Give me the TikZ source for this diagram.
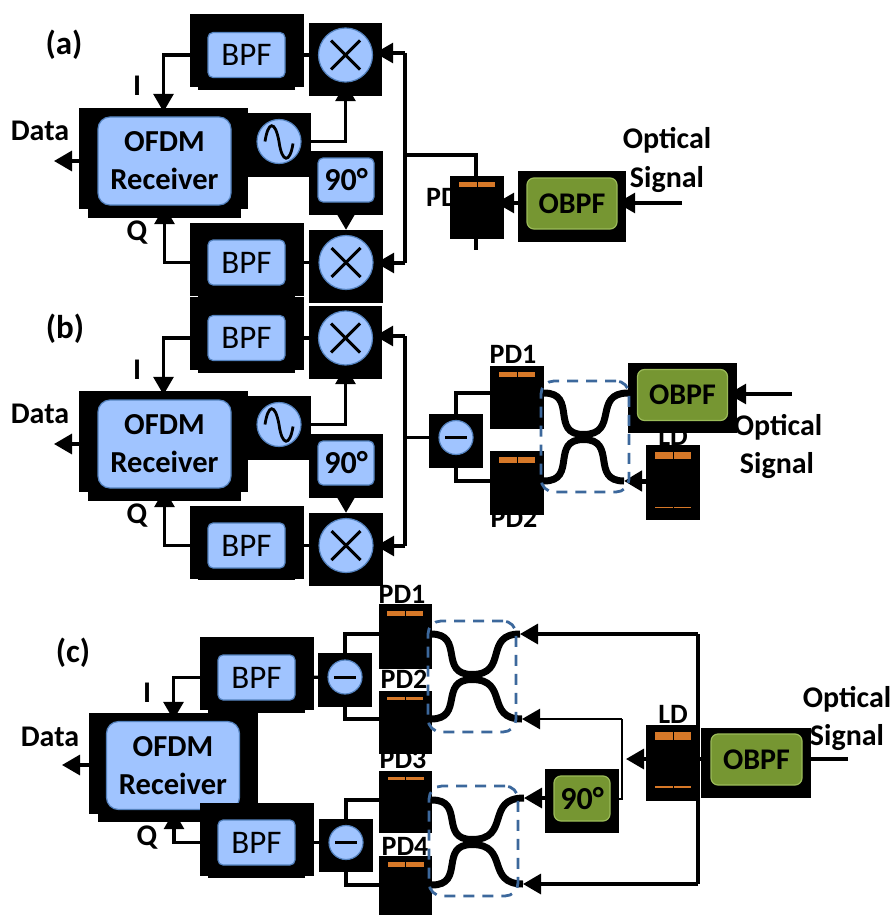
\documentclass[tikz,border=0pt]{standalone}
\usepackage{fontspec}
\setmainfont{Carlito}
\usetikzlibrary{arrows.meta}
\definecolor{rxblue}{RGB}{160,196,255}
\definecolor{rxedge}{RGB}{84,130,190}
\definecolor{filtergreen}{RGB}{118,150,50}
\definecolor{filteredge}{RGB}{155,187,89}
\definecolor{pdorange}{RGB}{214,120,40}
\definecolor{dashblue}{RGB}{60,104,156}
\pgfdeclarelayer{wires}
\pgfsetlayers{wires,main}
\tikzset{plate/.style={fill=black, inner sep=0pt, minimum width=54pt, minimum height=63pt}}
\tikzset{bpfplate/.style={plate, minimum width=114pt, minimum height=73pt}}
\tikzset{mixplate/.style={plate, minimum width=73pt, minimum height=73pt}}
\tikzset{rxplate/.style={plate, minimum width=169pt, minimum height=101pt}}
\tikzset{obpfplate/.style={plate, minimum width=108pt, minimum height=71pt}}
\tikzset{bluebox/.style={fill=rxblue, draw=rxedge, line width=1.2pt, rounded corners=5pt, inner sep=0pt, text=black}}
\tikzset{greenbox/.style={fill=filtergreen, draw=filteredge, line width=1.2pt, rounded corners=7pt, inner sep=0pt, text=black}}
\tikzset{bpfbox/.style={bluebox, minimum width=77pt, minimum height=45pt, font=\fontsize{33}{36}\selectfont}}
\tikzset{rxbox/.style={bluebox, rounded corners=12pt, minimum width=133pt, minimum height=88pt, align=center, font=\fontsize{30.5}{38}\selectfont\bfseries}}
\tikzset{phasebox/.style={minimum width=56pt, minimum height=44pt, font=\fontsize{32}{36}\selectfont\bfseries}}
\tikzset{obpfbox/.style={greenbox, minimum width=90pt, minimum height=51pt, font=\fontsize{30}{36}\selectfont\bfseries}}
\tikzset{roundblue/.style={circle, fill=rxblue, draw=rxedge, line width=1.2pt, inner sep=0pt}}
\tikzset{mixer/.style={roundblue, minimum size=54pt, path picture={
    \draw[black, line width=3pt] ([shift={(-14.5,-14.5)}]path picture bounding box.center) -- ([shift={(14.5,14.5)}]path picture bounding box.center);
    \draw[black, line width=3pt] ([shift={(-14.5,14.5)}]path picture bounding box.center) -- ([shift={(14.5,-14.5)}]path picture bounding box.center);}}}
\tikzset{minus/.style={roundblue, minimum size=34pt, path picture={
    \draw[black, line width=3pt] ([xshift=-11pt]path picture bounding box.center) -- ([xshift=11pt]path picture bounding box.center);}}}
\tikzset{osc/.style={roundblue, minimum size=44pt, path picture={
    \draw[black, line width=2.8pt] ([shift={(-14,0)}]path picture bounding box.center) .. controls +(3,-20) and +(-4,-22) .. ([shift={(0,0)}]path picture bounding box.center) .. controls +(3,22) and +(-3,20) .. ([shift={(14,2)}]path picture bounding box.center);}}}
\tikzset{pdbar/.style={fill=pdorange, inner sep=0pt, minimum width=36pt, minimum height=5pt, path picture={
    \draw[black, line width=0.8pt] (path picture bounding box.north) -- (path picture bounding box.south);}}}
\tikzset{lab/.style={inner sep=0pt, anchor=base, font=\fontsize{30}{32}\selectfont\bfseries}}
\tikzset{pdlab/.style={lab, font=\fontsize{28}{32}\selectfont\bfseries}}
\tikzset{panel/.style={lab, font=\fontsize{33}{36}\selectfont\bfseries}}
\tikzset{wire/.style={line width=3.2pt}}
\tikzset{sig/.style={wire, -{Triangle[length=18pt,width=20pt]}}}
\tikzset{fiber/.style={out=0, in=180, looseness=1.5}}
\tikzset{coupler/.style={draw=dashblue, line width=2.8pt, dash pattern=on 11pt off 8pt, rounded corners=13pt, inner sep=0pt}}
\begin{document}
\begin{tikzpicture}[x=1pt, y=-1pt]
    \useasboundingbox (0,0) rectangle (896,915);
    \begin{scope}
        \node[panel] (Ta) at (64,55) {(a)};
        \node[lab] (Da) at (40,140) {Data};
        \node[lab] (Ia) at (137,96) {I};
        \node[lab] (Qa) at (137,240) {Q};
        \node[pdlab, anchor=base west] (La) at (426,206) {PD};
        \node[lab] (Oa1) at (667,148) {Optical};
        \node[lab] (Oa2) at (667,187) {Signal};

        \node[bpfplate] (PBa1) at (247,50.5) {};
        \node[plate, minimum width=97pt, minimum height=10pt] (SBa1) at (246.5,85) {};
        \node[bpfbox] (Ba1) at (246.5,55) {BPF};
        \node[mixplate] (PMa1) at (345.5,59.5) {};
        \node[mixer] (Ma1) at (345.5,55) {};
        \node[rxplate] (PRa) at (163.5,158.5) {};
        \node[plate, minimum width=153pt, minimum height=18pt] (SRa) at (164.5,209) {};
        \node[rxbox] (Ra) at (164.5,161) {OFDM\\Receiver};
        \node[plate, minimum width=63pt, minimum height=64pt] (PWa) at (279.5,145) {};
        \node[osc] (Wa) at (279,141.5) {};
        \node[plate, minimum width=74pt, minimum height=64pt] (PHa) at (346,183) {};
        \node[bluebox, phasebox] (Ha) at (346,180) {90°};
        \node[mixplate, minimum width=74pt] (PMa2) at (346,266.5) {};
        \node[mixer] (Ma2) at (346,262.5) {};
        \node[bpfplate] (PBa2) at (247,259.5) {};
        \node[plate, minimum width=97pt, minimum height=7pt] (SBa2) at (246.5,293.5) {};
        \node[bpfbox] (Ba2) at (246.5,262.5) {BPF};
        \node[plate] (PDa) at (477,207) {};
        \node[pdbar] (Ga) at (477,184) {};
        \node[obpfplate] (POa) at (572,206.5) {};
        \node[obpfbox] (Fa) at (572,203.5) {OBPF};

        \coordinate (Ya) at (405,53);
        \coordinate (Za) at (405,263);
        \coordinate (Ja) at (405,155);
        \coordinate (Ea) at (476,250);
        \coordinate (Ka) at (682,203);
        \coordinate (Aa) at (54,161);

        \begin{pgfonlayer}{wires}
            \draw[sig, shorten >=-4pt] (Ba1) -| (PRa.north);
            \draw[sig, shorten >=-12pt] (Ba2) -| (SRa.south);
            \draw[sig] (PRa.west |- Aa) -- (Aa);
            \draw[wire] (Ba1) -- (Ma1);
            \draw[wire] (Ba2) -- (Ma2);
            \draw[sig, shorten >=-13pt] (Wa) -| (PMa1.south);
            \draw[sig] (PHa.south) -- (PMa2.north);
            \draw[wire] (Ya) -- (Za);
            \draw[sig, shorten >=-7pt] (Ya) -- (PMa1.east |- Ya);
            \draw[sig, shorten >=-7pt] (Za) -- (PMa2.east |- Za);
            \draw[wire] (Ja) -| (Ea);
            \draw[sig, shorten >=-8pt] (POa.west |- Ka) -- (PDa.east |- Ka);
            \draw[sig, shorten >=-9pt] (Ka) -- (POa.east |- Ka);
        \end{pgfonlayer}
    \end{scope}

    \begin{scope}
        \node[panel] (Tb) at (65,338) {(b)};
        \node[lab] (Db) at (40,423) {Data};
        \node[lab] (Ib) at (137,379) {I};
        \node[lab] (Qb) at (137,523) {Q};
        \node[pdlab] (Lb1) at (513,363) {PD1};
        \node[pdlab] (Lb2) at (514,527) {PD2};
        \node[pdlab] (Lb3) at (673,445) {LD};
        \node[lab] (Ob1) at (778,435) {Optical};
        \node[lab] (Ob2) at (777,473) {Signal};

        \node[bpfplate] (PBb1) at (247,333.5) {};
        \node[plate, minimum width=97pt, minimum height=10pt] (SBb1) at (246.5,368) {};
        \node[bpfbox] (Bb1) at (246.5,338) {BPF};
        \node[mixplate] (PMb1) at (345.5,342.5) {};
        \node[mixer] (Mb1) at (345.5,338) {};
        \node[rxplate] (PRb) at (163.5,441.5) {};
        \node[plate, minimum width=153pt, minimum height=18pt] (SRb) at (164.5,492) {};
        \node[rxbox] (Rb) at (164.5,444) {OFDM\\Receiver};
        \node[plate, minimum width=63pt, minimum height=64pt] (PWb) at (279.5,428) {};
        \node[osc] (Wb) at (279,424.5) {};
        \node[plate, minimum width=74pt, minimum height=64pt] (PHb) at (346,466) {};
        \node[bluebox, phasebox] (Hb) at (346,463) {90°};
        \node[mixplate, minimum width=74pt] (PMb2) at (346,549.5) {};
        \node[mixer] (Mb2) at (346,545.5) {};
        \node[bpfplate] (PBb2) at (247,542.5) {};
        \node[plate, minimum width=97pt, minimum height=7pt] (SBb2) at (246.5,576.5) {};
        \node[bpfbox] (Bb2) at (246.5,545.5) {BPF};
        \node[plate, minimum height=54pt] (PMb3) at (456,440.5) {};
        \node[minus] (Mb3) at (456,437.5) {};
        \node[plate] (PDb1) at (517,397.5) {};
        \node[pdbar] (Gb1) at (517,374) {};
        \node[plate, minimum height=64pt] (PDb2) at (517,483) {};
        \node[pdbar, minimum height=6pt] (Gb2) at (517,460) {};
        \node[plate, minimum height=75pt] (PDb3) at (673,482.5) {};
        \node[pdbar, minimum height=7pt] (Gb3) at (673,455.5) {};
        \node[pdbar, minimum height=1.5pt] (Gb4) at (673,507.5) {};
        \node[obpfplate, minimum width=109pt, minimum height=70pt] (POb) at (682.5,398) {};
        \node[obpfbox] (Fb) at (682.5,395) {OBPF};
        \node[coupler, minimum width=88pt, minimum height=111pt] (Cb) at (585,436.5) {};

        \coordinate (Yb) at (405,336);
        \coordinate (Zb) at (405,546);
        \coordinate (Jb) at (405,437.5);
        \coordinate (Kb) at (792,394);
        \coordinate (Ab) at (54,444);
        \coordinate (Ub1) at (544,393);
        \coordinate (Ub2) at (544,481);
        \coordinate (Vb1) at (628,393);
        \coordinate (Vb2) at (624,481);
        \coordinate (Xb1) at (583.5,434.5);
        \coordinate (Xb2) at (583.5,439.5);

        \begin{pgfonlayer}{wires}
            \draw[sig, shorten >=-4pt] (Bb1) -| (PRb.north);
            \draw[sig, shorten >=-12pt] (Bb2) -| (SRb.south);
            \draw[sig] (PRb.west |- Ab) -- (Ab);
            \draw[wire] (Bb1) -- (Mb1);
            \draw[wire] (Bb2) -- (Mb2);
            \draw[sig, shorten >=-13pt] (Wb) -| (PMb1.south);
            \draw[sig] (PHb.south) -- (PMb2.north);
            \draw[wire] (Yb) -- (Zb);
            \draw[sig, shorten >=-7pt] (Yb) -- (PMb1.east |- Yb);
            \draw[sig, shorten >=-7pt] (Zb) -- (PMb2.east |- Zb);
            \draw[wire] (Jb) -- (Mb3);
            \draw[wire] (Mb3) |- (Ub1);
            \draw[wire] (Mb3) |- (Ub2);
            \draw[line width=7pt] (Ub1) to[fiber] (Xb1) to[fiber] (Vb1);
            \draw[line width=7pt] (Ub2) to[fiber] (Xb2) to[fiber] (Vb2);
            \draw[sig, line width=5pt] (PDb3.west |- Vb2) -- (Vb2);
            \draw[sig, shorten >=-9pt] (Kb) -- (POb.east |- Kb);
        \end{pgfonlayer}
    \end{scope}

    \begin{scope}
        \node[panel] (Tc) at (73,662) {(c)};
        \node[lab] (Dc) at (50,746) {Data};
        \node[lab] (Ic) at (147,702) {I};
        \node[lab] (Qc) at (147,845) {Q};
        \node[pdlab] (Lc1) at (402,603) {PD1};
        \node[pdlab] (Lc2) at (404,688) {PD2};
        \node[pdlab] (Lc3) at (403,768) {PD3};
        \node[pdlab] (Lc4) at (405,855) {PD4};
        \node[pdlab] (Lc5) at (673,723) {LD};
        \node[lab] (Oc1) at (847,707) {Optical};
        \node[lab] (Oc2) at (847,745) {Signal};

        \node[rxplate] (PRc) at (173.5,763.5) {};
        \node[plate, minimum width=153pt, minimum height=18pt] (SRc) at (174,813) {};
        \node[rxbox] (Rc) at (173,765.5) {OFDM\\Receiver};
        \node[bpfplate] (PBc1) at (257,673.5) {};
        \node[plate, minimum width=97pt, minimum height=10pt] (SBc1) at (256,708) {};
        \node[bpfbox] (Bc1) at (256.5,677.5) {BPF};
        \node[bpfplate] (PBc2) at (257,839.5) {};
        \node[plate, minimum width=97pt, minimum height=10pt] (SBc2) at (256,873) {};
        \node[bpfbox] (Bc2) at (256.5,842.5) {BPF};
        \node[plate, minimum height=54pt] (PMc1) at (345,680) {};
        \node[minus] (Mc1) at (345,677) {};
        \node[plate, minimum height=53pt] (PMc2) at (346,845.5) {};
        \node[minus] (Mc2) at (346,842.5) {};
        \node[plate, minimum width=53pt, minimum height=65pt] (PDc1) at (405,636.5) {};
        \node[pdbar] (Gc1) at (405,613.5) {};
        \node[plate, minimum width=53pt] (PDc2) at (405,722.5) {};
        \node[pdbar, minimum height=3pt] (Gc2) at (405,698.5) {};
        \node[plate, minimum width=53pt, minimum height=62pt] (PDc3) at (405.5,802) {};
        \node[pdbar, minimum height=3pt] (Gc3) at (405.5,778.5) {};
        \node[plate, minimum width=53pt, minimum height=59pt] (PDc4) at (405.5,885.5) {};
        \node[pdbar] (Gc4) at (405.5,864.5) {};
        \node[plate, minimum width=53pt, minimum height=76pt] (PLc) at (672.5,763) {};
        \node[pdbar, minimum height=8pt] (Gc5) at (673,736) {};
        \node[pdbar, minimum height=2pt] (Gc6) at (673,787) {};
        \node[plate, minimum width=74pt, minimum height=64pt] (PHc) at (582,801) {};
        \node[greenbox, minimum width=56pt, minimum height=45pt, font=\fontsize{32}{36}\selectfont\bfseries] (Hc) at (582,798.5) {90°};
        \node[obpfplate, minimum width=110pt, minimum height=70pt] (POc) at (756,763) {};
        \node[obpfbox, minimum width=91pt] (Fc) at (756.5,759.5) {OBPF};
        \node[coupler, minimum width=88pt, minimum height=111pt] (Cc1) at (472,676.5) {};
        \node[coupler, minimum width=89pt, minimum height=110pt] (Cc2) at (473.5,841) {};

        \coordinate (Tl) at (698,634);
        \coordinate (Bl) at (698,884);
        \coordinate (Jc) at (622,719);
        \coordinate (Kc) at (622,799);
        \coordinate (Ac) at (626,759);
        \coordinate (Ec) at (848,759);
        \coordinate (Bk) at (62,765);
        \coordinate (Uc1) at (431,634);
        \coordinate (Uc2) at (431,719);
        \coordinate (Uc3) at (432,800);
        \coordinate (Uc4) at (432,885);
        \coordinate (Vc1) at (520,634);
        \coordinate (Vc2) at (522,719);
        \coordinate (Vc3) at (524,798);
        \coordinate (Vc4) at (523,884);
        \coordinate (Xc1) at (472,674.5);
        \coordinate (Xc2) at (472,679.5);
        \coordinate (Xc3) at (472,839.5);
        \coordinate (Xc4) at (472,844.5);

        \begin{pgfonlayer}{wires}
            \draw[sig, shorten >=-7pt] (Bc1) -| (PRc.north);
            \draw[sig, shorten >=-11pt] (Bc2) -| (SRc.south);
            \draw[sig] (PRc.west |- Bk) -- (Bk);
            \draw[wire] (Bc1) -- (Mc1);
            \draw[wire] (Bc2) -- (Mc2);
            \draw[wire] (Mc1) |- (Uc1);
            \draw[wire] (Mc1) |- (Uc2);
            \draw[wire] (Mc2) |- (Uc3);
            \draw[wire] (Mc2) |- (Uc4);
            \draw[line width=7pt] (Uc1) to[fiber] (Xc1) to[fiber] (Vc1);
            \draw[line width=7pt] (Uc2) to[fiber] (Xc2) to[fiber] (Vc2);
            \draw[line width=7pt] (Uc3) to[fiber] (Xc3) to[fiber] (Vc3);
            \draw[line width=7pt] (Uc4) to[fiber] (Xc4) to[fiber] (Vc4);
            \draw[wire] (Tl) -- (Bl);
            \draw[sig] (Tl) -- (Vc1);
            \draw[sig] (Bl) -- (Vc4);
            \draw[wire, line width=2.5pt] (Jc) -- (Kc) -- (PHc.east |- Kc);
            \draw[sig, line width=2.5pt] (Jc) -- (Vc2);
            \draw[sig] (PHc.west |- Vc3) -- (Vc3);
            \draw[sig] (PLc.west |- Ac) -- (Ac);
            \draw[wire] (Ec) -- (PLc.east |- Ec);
        \end{pgfonlayer}
    \end{scope}
\end{tikzpicture}
\end{document}
